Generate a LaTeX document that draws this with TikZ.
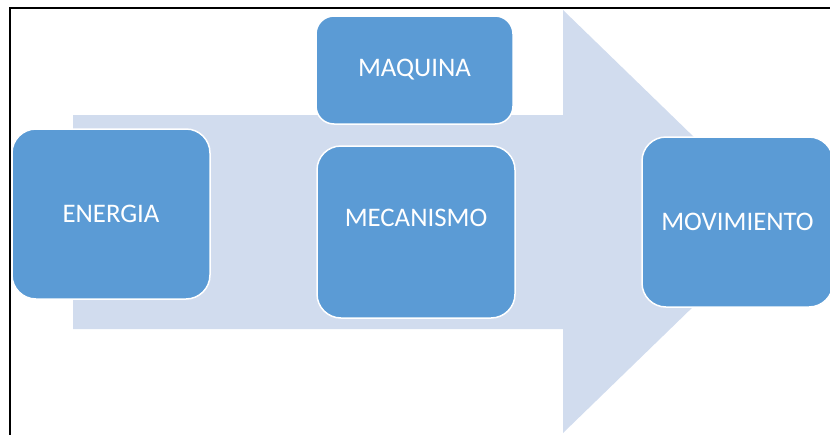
\documentclass[tikz,border=0pt]{standalone}
\usepackage{fontspec}
\setmainfont{Carlito}
\definecolor{boxblue}{HTML}{5B9BD5}
\definecolor{arrowblue}{HTML}{D1DCEE}
\tikzset{
  stagebox/.style={rectangle, rounded corners=24pt, fill=boxblue, draw=white,
    line width=1.5pt, text=white, font=\fontsize{26.8}{30}\selectfont,
    inner sep=0pt, align=center},
  framerule/.style={draw=black, line width=2.4pt},
}
\begin{document}
\begin{tikzpicture}[x=1pt, y=-1pt]
  \useasboundingbox (0,0) rectangle (830,434);
  \clip (0,0) rectangle (830,434);
  % frame edges
  \coordinate (fbl) at (10,440);
  \coordinate (ftl) at (10,8);
  \coordinate (ftr) at (840,8);
  \draw[framerule] (fbl) -- (ftl) -- (ftr);
  % broad background arrow
  \fill[arrowblue] (73,115) -- (563,115) -- (563,10) -- (781,221.5)
    -- (563,433) -- (563,329) -- (73,329) -- cycle;
  % stages
  \node[stagebox, minimum width=198pt, minimum height=170pt] (energia) at (111,214) {ENERGIA};
  \node[stagebox, rounded corners=18pt, minimum width=197pt, minimum height=108pt] (maquina) at (414.5,70) {MAQUINA};
  \node[stagebox, minimum width=198pt, minimum height=172pt, text depth=28pt] (mecanismo) at (416,232) {MECANISMO};
  \node[stagebox, minimum width=191pt, minimum height=170pt] (movimiento) at (737.5,222) {MOVIMIENTO};
\end{tikzpicture}
\end{document}
